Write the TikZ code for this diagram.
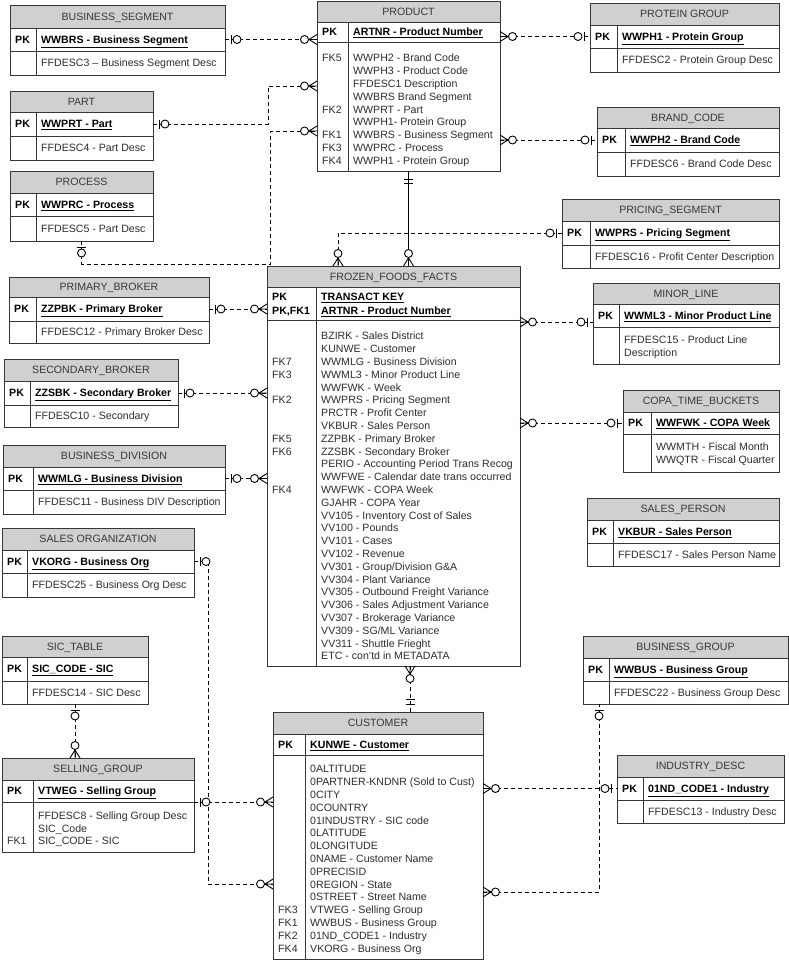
\documentclass[tikz,border=0pt]{standalone}
\usepackage{fontspec}
\setmainfont{Liberation Sans}
\usetikzlibrary{fit,calc}
\definecolor{hdrfill}{RGB}{208,208,208}
\definecolor{bord}{RGB}{55,55,55}
\definecolor{tx}{RGB}{45,45,45}
\definecolor{htx}{RGB}{55,55,55}
\newcommand\efont{\fontsize{10.6}{12.8}\selectfont}

\tikzset{
  box/.style={inner sep=0pt, outer sep=0pt, draw=bord, line width=0.8pt},
  htxt/.style={inner sep=0pt, font=\efont, text=htx, text height=7.6pt, text depth=0pt},
  lbl/.style={anchor=west, inner sep=0pt, font=\efont\bfseries, text=black, text height=7.6pt, text depth=0pt},
  txt/.style={anchor=west, inner sep=0pt, font=\efont, text=tx, text height=7.6pt, text depth=0pt},
  conn/.style={draw=black, line width=0.9pt, dash pattern=on 4pt off 3pt},
  solidc/.style={draw=black, line width=0.9pt},
  mk/.style={draw=black, line width=0.9pt, solid},
  zo/.pic={\draw[mk] (6,-4.5) -- (6,4.5); \draw[mk, fill=white] (12,0) circle[radius=4pt];},
  zm/.pic={\draw[mk] (0,-5) -- (8,0) -- (0,5) (0,0) -- (8,0); \draw[mk, fill=white] (12.5,0) circle[radius=4pt];},
  mo/.pic={\draw[mk] (8,-4.5) -- (8,4.5) (12.5,-4.5) -- (12.5,4.5);},
}

% #1 name, #2 x1, #3 top, #4 x2, #5 header bottom, #6 pk bottom, #7 bottom, #8 divider x, #9 title
\newcommand\ertab[9]{%
  \node[box, fill=hdrfill, fit={(#2,#3) (#4,#5)}] (#1-h) {};
  \node[htxt] (#1-t) at (#1-h.center) {#9};
  \node[box, fill=white, fit={(#2,#5) (#4,#6)}] (#1-pk) {};
  \node[box, fill=white, fit={(#2,#6) (#4,#7)}] (#1-b) {};
  \node[box, fit={(#2,#3) (#4,#7)}] (#1) {};
  \draw[draw=bord, line width=0.8pt] (#8,#5) -- (#8,#7);
}
\newcommand\pkrow[3]{%
  \node[lbl] (#1-k) at ([xshift=5pt]#1-pk.west) {PK};
  \node[lbl] (#1-kt) at ($(#1-pk.west -| #2,0)+(5,0)$) {\underline{#3}};
}
\newcommand\descrow[3]{%
  \node[txt] (#1-d) at ($(#1-b.west -| #2,0)+(5,0)$) {#3};
}
\newcommand\rowlist[5]{%
  \foreach \rw [count=\ri] in {#5} {\node[txt] (#1\ri) at (#2, {#3+(\ri-1)*#4}) {\rw};}
}
\newcommand\fklist[5]{%
  \foreach \rn/\rl in {#5} {\node[txt] (#1fk\rn) at (#2, {#3+(\rn-1)*#4}) {\rl};}
}

\begin{document}
\begin{tikzpicture}[x=1pt, y=-1pt]
\useasboundingbox[fill=white] (0,0) rectangle (789,961);

% ---------- tables ----------
\ertab{bs}{10}{5}{225}{28}{51}{75}{36}{BUSINESS\_SEGMENT}
\pkrow{bs}{36}{WWBRS - Business Segment}
\descrow{bs}{36}{FFDESC3 – Business Segment Desc}

\ertab{part}{10}{91}{153}{112}{136}{160}{36}{PART}
\pkrow{part}{36}{WWPRT - Part}
\descrow{part}{36}{FFDESC4 - Part Desc}

\ertab{proc}{10}{171}{153}{193}{216}{241}{36}{PROCESS}
\pkrow{proc}{36}{WWPRC - Process}
\descrow{proc}{36}{FFDESC5 - Part Desc}

\ertab{prod}{317}{1}{500}{22}{42}{171}{348}{PRODUCT}
\pkrow{prod}{348}{ARTNR - Product Number}
\rowlist{prodr}{353}{58}{12.8}{WWPH2 - Brand Code, WWPH3 - Product Code, FFDESC1 Description, WWBRS Brand Segment, WWPRT - Part, WWPH1- Protein Group, WWBRS - Business Segment, WWPRC - Process, WWPH1 - Protein Group}
\fklist{prod}{322}{58}{12.8}{1/FK5, 5/FK2, 7/FK1, 8/FK3, 9/FK4}

\ertab{pg}{590}{3}{779}{25}{48}{72}{617}{PROTEIN GROUP}
\pkrow{pg}{617}{WWPH1 - Protein Group}
\descrow{pg}{617}{FFDESC2 - Protein Group Desc}

\ertab{bc}{597}{107}{779}{128}{152}{176}{625}{BRAND\_CODE}
\pkrow{bc}{625}{WWPH2 - Brand Code}
\descrow{bc}{625}{FFDESC6 - Brand Code Desc}

\ertab{ps}{562}{199}{779}{221}{245}{268}{590}{PRICING\_SEGMENT}
\pkrow{ps}{590}{WWPRS - Pricing Segment}
\descrow{ps}{590}{FFDESC16 - Profit Center Description}

\ertab{ff}{267}{266}{520}{287}{320}{666}{316}{FROZEN\_FOODS\_FACTS}
\node[lbl] (ff-k1) at (272,297) {PK};
\node[lbl] (ff-k2) at (272,311) {PK,FK1};
\node[lbl] (ff-kt1) at (321,297) {\underline{TRANSACT KEY}};
\node[lbl] (ff-kt2) at (321,311) {\underline{ARTNR - Product Number}};
\rowlist{ffr}{321}{336}{12.8}{BZIRK - Sales District, KUNWE - Customer, WWMLG - Business Division, WWML3 - Minor Product Line, WWFWK - Week, WWPRS - Pricing Segment, PRCTR - Profit Center, VKBUR - Sales Person, ZZPBK - Primary Broker, ZZSBK - Secondary Broker, PERIO - Accounting Period Trans Recog, WWFWE - Calendar date trans occurred, WWFWK - COPA Week, GJAHR - COPA Year, VV105 - Inventory Cost of Sales, VV100 - Pounds, VV101 - Cases, VV102 - Revenue, VV301 - Group/Division G\&A, VV304 - Plant Variance, VV305 - Outbound Freight Variance, VV306 - Sales Adjustment Variance, VV307 - Brokerage Variance, VV309 - SG/ML Variance, VV311 - Shuttle Frieght, ETC - con'td in METADATA}
\fklist{ff}{272}{336}{12.8}{3/FK7, 4/FK3, 6/FK2, 9/FK5, 10/FK6, 13/FK4}

\ertab{pb}{9}{277}{209}{297}{321}{343}{36}{PRIMARY\_BROKER}
\pkrow{pb}{36}{ZZPBK - Primary Broker}
\descrow{pb}{36}{FFDESC12 - Primary Broker Desc}

\ertab{sb}{4}{359}{178}{381}{405}{427}{30}{SECONDARY\_BROKER}
\pkrow{sb}{30}{ZZSBK - Secondary Broker}
\descrow{sb}{30}{FFDESC10 - Secondary}

\ertab{bd}{3}{445}{225}{467}{490}{514}{33}{BUSINESS\_DIVISION}
\pkrow{bd}{33}{WWMLG - Business Division}
\descrow{bd}{33}{FFDESC11 - Business DIV Description}

\ertab{ml}{593}{283}{779}{304}{327}{364}{619}{MINOR\_LINE}
\pkrow{ml}{619}{WWML3 - Minor Product Line}
\rowlist{mlr}{624}{340}{13}{FFDESC15 - Product Line, Description}

\ertab{copa}{623}{390}{779}{412}{434}{472}{651}{COPA\_TIME\_BUCKETS}
\pkrow{copa}{651}{WWFWK - COPA Week}
\rowlist{copar}{656}{447}{13}{WWMTH - Fiscal Month, WWQTR - Fiscal Quarter}

\ertab{sp}{587}{498}{779}{520}{543}{566}{613}{SALES\_PERSON}
\pkrow{sp}{613}{VKBUR - Sales Person}
\descrow{sp}{613}{FFDESC17 - Sales Person Name}

\ertab{so}{2}{528}{194}{550}{573}{597}{27}{SALES ORGANIZATION}
\pkrow{so}{27}{VKORG - Business Org}
\descrow{so}{27}{FFDESC25 - Business Org Desc}

\ertab{sic}{2}{636}{148}{657}{681}{704}{27}{SIC\_TABLE}
\pkrow{sic}{27}{SIC\_CODE - SIC}
\descrow{sic}{27}{FFDESC14 - SIC Desc}

\ertab{sg}{2}{758}{194}{780}{802}{852}{33}{SELLING\_GROUP}
\pkrow{sg}{33}{VTWEG - Selling Group}
\rowlist{sgr}{38}{816}{12.5}{FFDESC8 - Selling Group Desc, SIC\_Code, SIC\_CODE - SIC}
\node[txt] (sg-fk1) at (7,841) {FK1};

\ertab{cust}{273}{712}{483}{734}{755}{959.5}{305}{CUSTOMER}
\pkrow{cust}{305}{KUNWE - Customer}
\rowlist{custr}{310}{769}{12.8}{0ALTITUDE, 0PARTNER-KNDNR (Sold to Cust), 0CITY, 0COUNTRY, 01INDUSTRY - SIC code, 0LATITUDE, 0LONGITUDE, 0NAME - Customer Name, 0PRECISID, 0REGION - State, 0STREET - Street Name, VTWEG - Selling Group, WWBUS - Business Group, 01ND\_CODE1 - Industry, VKORG - Business Org}
\fklist{cust}{278}{769}{12.8}{12/FK3, 13/FK1, 14/FK2, 15/FK4}

\ertab{bg}{583}{636}{788}{658}{681}{704}{609}{BUSINESS\_GROUP}
\pkrow{bg}{609}{WWBUS - Business Group}
\descrow{bg}{609}{FFDESC22 - Business Group Desc}

\ertab{id}{617}{755}{784}{777}{800}{823}{643}{INDUSTRY\_DESC}
\pkrow{id}{643}{01ND\_CODE1 - Industry}
\descrow{id}{643}{FFDESC13 - Industry Desc}

% ---------- connectors ----------
\coordinate (c2) at (268,86);
\coordinate (c3a) at (270,264);
\coordinate (c3b) at (270,131);
\coordinate (c7) at (338,0);
\coordinate (c11) at (0,322);
\coordinate (c13) at (410,0);
\coordinate (c14) at (208,884);
\coordinate (c18) at (599,892);

\draw[conn] (bs-pk.east) -- (bs-pk.east -| prod.west);
\draw[conn] (part-pk.east) -| (c2) -- (c2 -| prod.west);
\draw[conn] (proc.south) |- (c3a) -- (c3b) -- (c3b -| prod.west);
\draw[conn] (pg-pk.west -| prod.east) -- (pg-pk.west);
\draw[conn] (bc-pk.west -| prod.east) -- (bc-pk.west);
\draw[solidc] (prod.south) -- (prod.south |- ff.north);
\draw[conn] (ps-pk.west) -| (c7 |- ff.north);
\draw[conn] (pb-pk.east) -- (pb-pk.east -| ff.west);
\draw[conn] (sb-pk.east) -- (sb-pk.east -| ff.west);
\draw[conn] (bd-pk.east) -- (bd-pk.east -| ff.west);
\draw[conn] (c11 -| ff.east) -- (c11 -| ml.west);
\draw[conn] (copa-pk.west -| ff.east) -- (copa-pk.west);
\draw[conn] (c13 |- ff.south) -- (c13 |- cust.north);
\draw[conn] (so-pk.east) -| (c14) -- (c14 -| cust.west);
\draw[conn] (sg-pk.south east) -- (sg-pk.south east -| cust.west);
\draw[conn] (sic.south) -- (sic.south |- sg.north);
\draw[conn] (id-pk.west -| cust.east) -- (id-pk.west);
\draw[conn] (c18 -| cust.east) -- (c18) -- (c18 |- bg.south);

% ---------- end markers ----------
\pic[rotate=0] at (bs-pk.east) {zo};
\pic[rotate=180] at (bs-pk.east -| prod.west) {zm};
\pic[rotate=0] at (part-pk.east) {zo};
\pic[rotate=180] at (c2 -| prod.west) {zm};
\pic[rotate=-90] at (proc.south) {zo};
\pic[rotate=180] at (c3b -| prod.west) {zm};
\pic[rotate=0] at (pg-pk.west -| prod.east) {zm};
\pic[rotate=180] at (pg-pk.west) {zo};
\pic[rotate=0] at (bc-pk.west -| prod.east) {zm};
\pic[rotate=180] at (bc-pk.west) {zo};
\pic[rotate=-90] at (prod.south) {mo};
\pic[rotate=90] at (prod.south |- ff.north) {zm};
\pic[rotate=180] at (ps-pk.west) {zo};
\pic[rotate=90] at (c7 |- ff.north) {zm};
\pic[rotate=0] at (pb-pk.east) {zo};
\pic[rotate=180] at (pb-pk.east -| ff.west) {zm};
\pic[rotate=0] at (sb-pk.east) {zo};
\pic[rotate=180] at (sb-pk.east -| ff.west) {zm};
\pic[rotate=0] at (bd-pk.east) {zo};
\pic[rotate=180] at (bd-pk.east -| ff.west) {zm};
\pic[rotate=0] at (c11 -| ff.east) {zm};
\pic[rotate=180] at (c11 -| ml.west) {zo};
\pic[rotate=0] at (copa-pk.west -| ff.east) {zm};
\pic[rotate=180] at (copa-pk.west) {zo};
\pic[rotate=-90] at (c13 |- ff.south) {zm};
\pic[rotate=90] at (c13 |- cust.north) {mo};
\pic[rotate=0] at (so-pk.east) {zo};
\pic[rotate=180] at (c14 -| cust.west) {zm};
\pic[rotate=0] at (sg-pk.south east) {zo};
\pic[rotate=180] at (sg-pk.south east -| cust.west) {zm};
\pic[rotate=-90] at (sic.south) {zo};
\pic[rotate=90] at (sic.south |- sg.north) {zm};
\pic[rotate=0] at (id-pk.west -| cust.east) {zm};
\pic[rotate=180] at (id-pk.west) {zo};
\pic[rotate=0] at (c18 -| cust.east) {zm};
\pic[rotate=-90] at (c18 |- bg.south) {zo};
\end{tikzpicture}
\end{document}
